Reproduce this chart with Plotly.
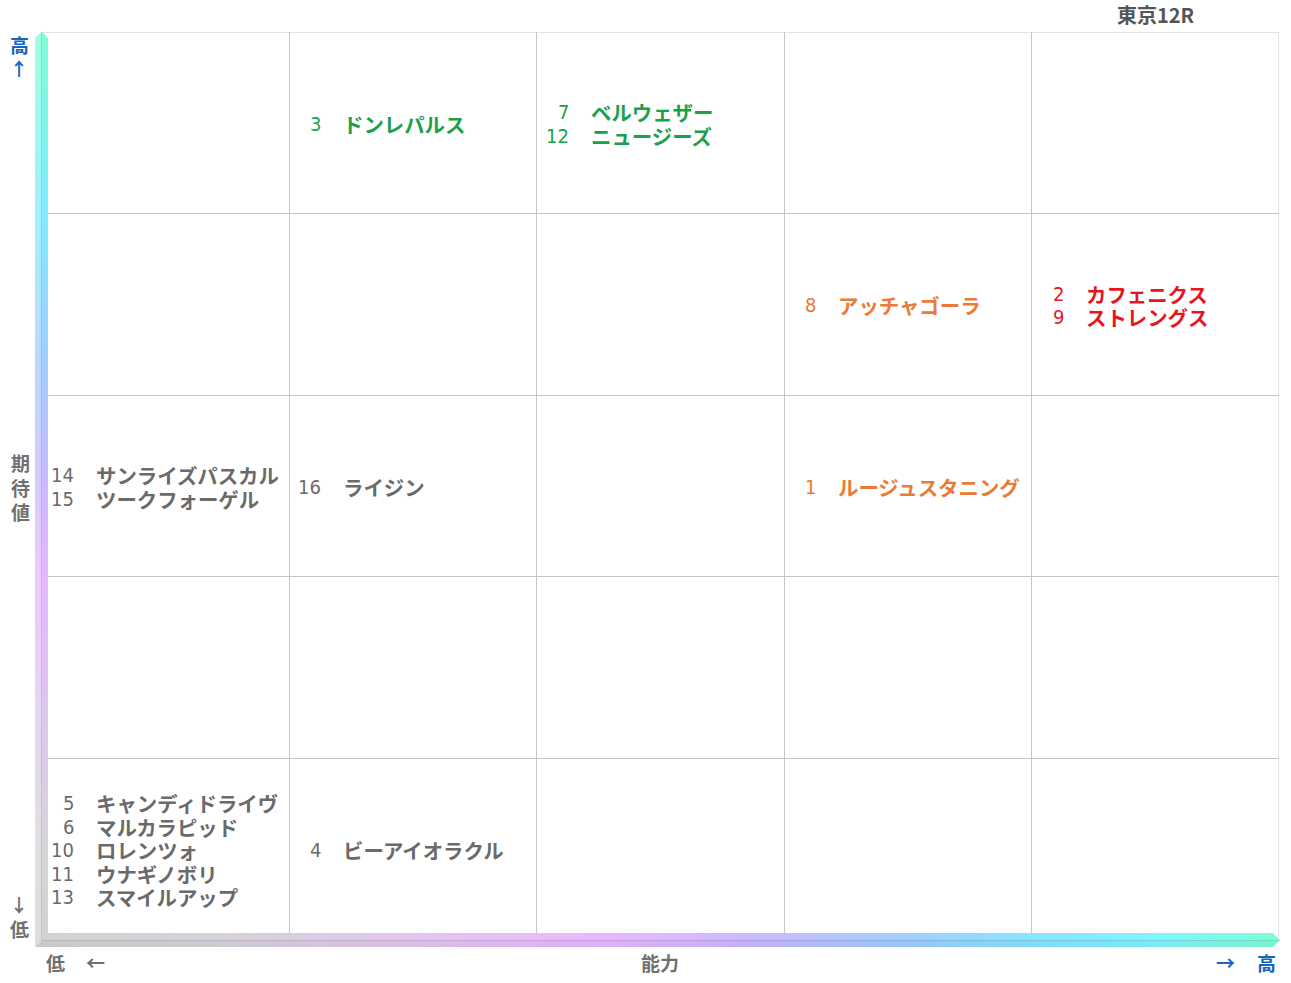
import plotly.graph_objects as go

W, H = 1291, 983

# ---------------- data ----------------
title_text = "東京12R"
x_axis_label = "能力"
y_axis_label = "期待値"
low_label = "低"
high_label = "高"

horse_numbers = [1, 2, 3, 4, 5, 6, 7, 8, 9, 10, 11, 12, 13, 14, 15, 16]
horse_names = ["ルージュスタニング", "カフェニクス", "ドンレパルス", "ビーアイオラクル",
               "キャンディドライヴ", "マルカラピッド", "ベルウェザー", "アッチャゴーラ",
               "ストレングス", "ロレンツォ", "ウナギノボリ", "ニュージーズ",
               "スマイルアップ", "サンライズパスカル", "ツークフォーゲル", "ライジン"]
ability_level = [4, 5, 2, 2, 1, 1, 3, 4, 5, 1, 1, 3, 1, 1, 1, 2]      # 1..5 (x)
expectation_level = [3, 4, 5, 1, 1, 1, 5, 4, 4, 1, 1, 5, 1, 3, 3, 3]  # 1..5 (y)
rank_group = ["orange", "red", "green", "gray", "gray", "gray", "green", "orange",
              "red", "gray", "gray", "green", "gray", "gray", "gray", "gray"]
n_levels = 5

# ---------------- styles ----------------
COLORS = {"green": "#1ba04b", "orange": "#ea7a35", "red": "#e8141e", "gray": "#6a6a6a"}
BLUE = "#1566c0"
LABEL_GRAY = "#707070"
GRID = "#c6c6c6"
NAME_FONT = "Noto Sans CJK JP"
NUM_FONT = "Liberation Sans Narrow, DejaVu Sans Condensed, Noto Sans CJK JP"

PL, PR, PT, PB = 42, 1279, 32, 940  # plot area in pixels
LINE_STEP = 23.5

fig = go.Figure()

fig.update_layout(
    width=W, height=H, margin=dict(l=0, r=0, t=0, b=0),
    paper_bgcolor="white", plot_bgcolor="rgba(0,0,0,0)", showlegend=False,
    xaxis=dict(domain=[PL / W, PR / W], range=[0, n_levels], tickvals=list(range(n_levels + 1)),
               showgrid=True, gridcolor=GRID, gridwidth=1, showticklabels=False,
               zeroline=False, showline=False, ticks="", fixedrange=True, anchor="y"),
    yaxis=dict(domain=[1 - PB / H, 1 - PT / H], range=[0, n_levels], tickvals=list(range(n_levels + 1)),
               showgrid=True, gridcolor=GRID, gridwidth=1, showticklabels=False,
               zeroline=False, showline=False, ticks="", fixedrange=True, anchor="x"),
    xaxis2=dict(domain=[0, 1], range=[0, W], visible=False, fixedrange=True, anchor="y2"),
    yaxis2=dict(domain=[0, 1], range=[H, 0], visible=False, fixedrange=True, anchor="x2"),
)
# invisible trace to make main axes active
fig.add_trace(go.Scatter(x=[0, n_levels], y=[0, n_levels], mode="markers",
                         marker=dict(opacity=0), hoverinfo="skip"))

# gradient axis bars (decoration) in pixel coordinates
grad_v = [[0.0, "#7dffd6"], [0.2, "#80ecff"], [0.38, "#a6caff"], [0.5, "#cdb9ff"],
          [0.6, "#e6b8ff"], [0.75, "#ddc8ee"], [0.9, "#d5d5d5"], [1.0, "#d2d2d2"]]
grad_h = [[0.0, "#d2d2d2"], [0.15, "#d6d2da"], [0.3, "#e2c6ee"], [0.45, "#e8b8ff"],
          [0.57, "#cdb9ff"], [0.68, "#a6caff"], [0.8, "#88e4ff"], [0.9, "#80f4ff"], [1.0, "#7dffd6"]]

vx = [35, 35, 41.5, 48, 48, 41.5, 35]
vy = [947, 38, 31.5, 38, 934, 940.5, 947]
fig.add_trace(go.Scatter(x=vx, y=vy, xaxis="x2", yaxis="y2", mode="lines",
                         line=dict(width=0), fill="toself", hoverinfo="skip",
                         fillgradient=dict(type="vertical", colorscale=grad_v, start=31.5, stop=947)))
hx = [35, 48, 1273, 1280, 1273, 35]
hy = [947, 933, 933, 940, 947, 947]
fig.add_trace(go.Scatter(x=hx, y=hy, xaxis="x2", yaxis="y2", mode="lines",
                         line=dict(width=0), fill="toself", hoverinfo="skip",
                         fillgradient=dict(type="horizontal", colorscale=grad_h, start=35, stop=1280)))
# subtle faces for 3D look
fig.add_trace(go.Scatter(x=[35, 35, 41.5, 41.5, 35], y=[947, 38, 31.5, 940.5, 947], xaxis="x2", yaxis="y2",
                         mode="lines", line=dict(width=0), fill="toself",
                         fillcolor="rgba(255,255,255,0.25)", hoverinfo="skip"))
fig.add_trace(go.Scatter(x=[41.5, 1280, 1273, 35, 41.5], y=[940.5, 940, 947, 947, 940.5], xaxis="x2", yaxis="y2",
                         mode="lines", line=dict(width=0), fill="toself",
                         fillcolor="rgba(0,0,0,0.04)", hoverinfo="skip"))
fig.add_trace(go.Scatter(x=[41.5, 41.5], y=[32, 940.5], xaxis="x2", yaxis="y2", mode="lines",
                         line=dict(width=1, color="rgba(0,0,0,0.10)"), hoverinfo="skip"))
fig.add_trace(go.Scatter(x=[41.5, 1280], y=[940.5, 940.5], xaxis="x2", yaxis="y2", mode="lines",
                         line=dict(width=1, color="rgba(0,0,0,0.10)"), hoverinfo="skip"))

# top and right borders
fig.add_shape(type="line", xref="x", yref="y", x0=0, x1=n_levels, y0=n_levels, y1=n_levels,
              line=dict(color=GRID, width=1))
fig.add_shape(type="line", xref="x", yref="y", x0=n_levels, x1=n_levels, y0=0, y1=n_levels,
              line=dict(color=GRID, width=1))

# ---------------- horse labels ----------------
cells = {}
for num, name, a, e, g in zip(horse_numbers, horse_names, ability_level, expectation_level, rank_group):
    cells.setdefault((a, e), []).append((num, name, g))

for (a, e), items in cells.items():
    items.sort()
    n = len(items)
    for i, (num, name, g) in enumerate(items):
        shift = ((n - 1) / 2 - i) * LINE_STEP - 1
        col = COLORS[g]
        fig.add_annotation(x=a - 1, y=e - 0.5, xref="x", yref="y", text=str(num),
                           xanchor="right", yanchor="middle", xshift=33, yshift=shift,
                           borderpad=0, showarrow=False,
                           font=dict(family=NUM_FONT, size=20, color=col))
        fig.add_annotation(x=a - 1, y=e - 0.5, xref="x", yref="y", text=name,
                           xanchor="left", yanchor="middle", xshift=53, yshift=shift,
                           borderpad=0, showarrow=False,
                           font=dict(family=NAME_FONT, size=20.4, color=col, weight="bold"))

# ---------------- axis labels & title ----------------
def ann(x, y, text, color, size=19, family=NAME_FONT, xanchor="center"):
    fig.add_annotation(x=x / W, y=1 - y / H, xref="paper", yref="paper", text=text,
                       xanchor=xanchor, yanchor="middle", showarrow=False, borderpad=0,
                       font=dict(family=family, size=size, color=color, weight="bold"))

ann(1156, 14, title_text, "#555555", size=20)
ann(19, 45, high_label, BLUE, size=19)
ann(19, 68, "↑", BLUE, size=18)
ann(20, 487, "<br>".join(list(y_axis_label)), LABEL_GRAY, size=19)
ann(19, 904, "↓", LABEL_GRAY, size=18)
ann(19, 928, low_label, LABEL_GRAY, size=19)
ann(55, 962, low_label, LABEL_GRAY, size=19)
ann(96, 962, "←", LABEL_GRAY, size=19)
ann(660, 962, x_axis_label, LABEL_GRAY, size=19)
ann(1225, 962, "→", BLUE, size=19)
ann(1266, 962, high_label, BLUE, size=19)

fig.write_html("out.html", config={"displayModeBar": False},
               post_script="document.body.style.margin='0';document.body.style.overflow='hidden';")
